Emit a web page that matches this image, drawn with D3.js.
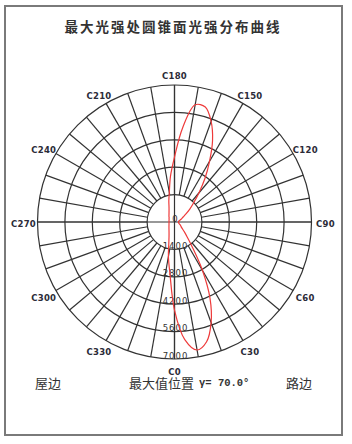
<!DOCTYPE html>
<html>
<head>
<meta charset="utf-8">
<script src="https://cdn.jsdelivr.net/npm/d3@7"></script>
<style>
  body { margin: 0; background: #fff; }
</style>
</head>
<body>
<div id="chart"></div>
<script>
// C-plane angles (deg) and intensity at the max-intensity cone
const cAngles = [0, 5, 10, 15, 20, 25, 30, 35, 40, 45, 50, 55, 60, 65, 70, 75, 80, 85,
  90, 95, 100, 105, 110, 115, 120, 125, 130, 135, 140, 145, 150, 155, 160, 165, 170, 175,
  180, 185, 190, 195, 200, 205, 210, 215, 220, 225, 230, 235, 240, 245, 250, 255, 260, 265,
  270, 275, 280, 285, 290, 295, 300, 305, 310, 315, 320, 325, 330, 335, 340, 345, 350, 355];
const intensity = [4500, 6030, 6640, 6335, 5470, 4290, 2860, 1635, 1020, 715, 510, 410, 360, 300, 255, 230, 205, 205,
  205, 205, 205, 255, 305, 410, 510, 715, 1020, 1380, 1940, 2710, 3580, 4600, 5470, 6080, 6080, 4850,
  3320, 2350, 1530, 1120, 820, 660, 560, 490, 440, 400, 360, 340, 320, 305, 295, 290, 285, 280,
  280, 280, 285, 290, 300, 310, 325, 345, 370, 400, 440, 490, 560, 660, 820, 1120, 1790, 2660];
const ringValues = [1400, 2800, 4200, 5600, 7000];
const radialLabels = [0, 1400, 2800, 4200, 5600, 7000];
const cLabels = [0, 30, 60, 90, 120, 150, 180, 210, 240, 270, 300, 330];
const spokeAngles = d3.range(0, 360, 10);

const width = 352;
const height = 444;
const cx = 174.5;
const cy = 222;
const outerR = 137;

const svg = d3.select('#chart')
  .append('svg')
  .attr('width', width)
  .attr('height', height);

// frame
svg.append('rect')
  .attr('x', 5)
  .attr('y', 6)
  .attr('width', 337)
  .attr('height', 429)
  .attr('fill', 'none')
  .attr('stroke', '#7a7a7a')
  .attr('stroke-width', 2);

svg.append('text')
  .text('最大光强处圆锥面光强分布曲线')
  .attr('x', 173)
  .attr('y', 26)
  .attr('text-anchor', 'middle')
  .attr('dominant-baseline', 'central')
  .attr('font-family', 'Noto Sans CJK SC')
  .attr('font-weight', 'bold')
  .attr('font-size', '13.5px')
  .attr('letter-spacing', '2px')
  .attr('fill', '#333');

const r = d3.scaleLinear()
  .domain([0, 7000])
  .range([0, outerR]);

const toRad = d => d * Math.PI / 180;

const g = svg.append('g')
  .attr('transform', 'translate(' + cx + ',' + cy + ')');

// rings
g.selectAll('circle.ring')
  .data(ringValues)
  .enter()
  .append('circle')
  .attr('class', 'ring')
  .attr('r', d => r(d))
  .attr('fill', 'none')
  .attr('stroke', '#333')
  .attr('stroke-width', 1.2);

// spokes from inner ring outwards
g.selectAll('line.spoke')
  .data(spokeAngles)
  .enter()
  .append('line')
  .attr('class', 'spoke')
  .attr('x1', d => r(ringValues[0]) * Math.sin(toRad(d)))
  .attr('y1', d => r(ringValues[0]) * Math.cos(toRad(d)))
  .attr('x2', d => r(7000) * Math.sin(toRad(d)))
  .attr('y2', d => r(7000) * Math.cos(toRad(d)))
  .attr('stroke', '#333')
  .attr('stroke-width', 1.2);

// main axes through centre
g.selectAll('line.axis')
  .data([0, 90])
  .enter()
  .append('line')
  .attr('class', 'axis')
  .attr('x1', d => -r(7000) * Math.sin(toRad(d)))
  .attr('y1', d => -r(7000) * Math.cos(toRad(d)))
  .attr('x2', d => r(7000) * Math.sin(toRad(d)))
  .attr('y2', d => r(7000) * Math.cos(toRad(d)))
  .attr('stroke', '#333')
  .attr('stroke-width', 1.2);

// intensity labels down the C0 axis
g.selectAll('text.rlabel')
  .data(radialLabels)
  .enter()
  .append('text')
  .attr('class', 'rlabel')
  .text(d => d)
  .attr('x', 1)
  .attr('y', d => r(d) - 3.5)
  .attr('text-anchor', 'middle')
  .attr('dominant-baseline', 'central')
  .attr('font-family', 'DejaVu Sans')
  .attr('font-size', '8.5px')
  .attr('letter-spacing', '1px')
  .attr('fill', '#333');

// C-plane labels
g.selectAll('text.clabel')
  .data(cLabels)
  .enter()
  .append('text')
  .attr('class', 'clabel')
  .text(d => 'C' + d)
  .attr('x', d => 151 * Math.sin(toRad(d)))
  .attr('y', d => 148 * Math.cos(toRad(d)) + 2)
  .attr('text-anchor', 'middle')
  .attr('dominant-baseline', 'central')
  .attr('font-family', 'DejaVu Sans')
  .attr('font-weight', 'bold')
  .attr('font-size', '8.5px')
  .attr('letter-spacing', '0.3px')
  .attr('fill', '#2b2b38');

// distribution curve
const curve = d3.lineRadial()
  .angle(d => Math.PI - toRad(d[0]))
  .radius(d => r(d[1]))
  .curve(d3.curveCatmullRomClosed);

g.append('path')
  .datum(cAngles.map((c, i) => [c, intensity[i]]))
  .attr('d', curve)
  .attr('fill', 'none')
  .attr('stroke', '#ee3a3a')
  .attr('stroke-width', 1.2);

// bottom captions
const cap = svg.append('g')
  .attr('font-family', 'Noto Sans CJK SC')
  .attr('font-size', '13px')
  .attr('fill', '#333');

cap.append('text').text('屋边').attr('x', 35).attr('y', 382).attr('dominant-baseline', 'central');
cap.append('text').text('最大值位置').attr('x', 129).attr('y', 382).attr('dominant-baseline', 'central');
cap.append('text').text('路边').attr('x', 286).attr('y', 382).attr('dominant-baseline', 'central');

svg.append('text')
  .text('γ= 70.0°')
  .attr('x', 199)
  .attr('y', 383)
  .attr('dominant-baseline', 'central')
  .attr('font-family', 'Liberation Mono')
  .attr('font-weight', 'bold')
  .attr('font-size', '10.5px')
  .attr('fill', '#333');
</script>
</body>
</html>
